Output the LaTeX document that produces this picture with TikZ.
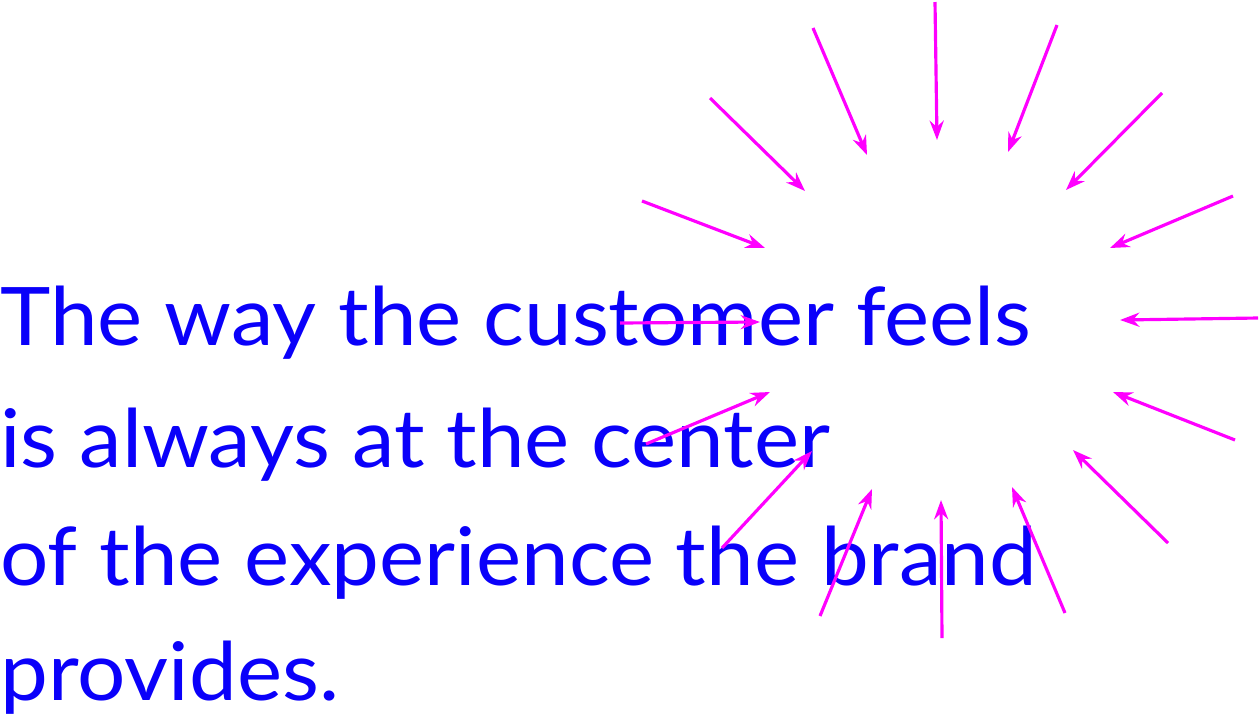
\documentclass[tikz,border=0pt]{standalone}
\usepackage{fontspec}
\setmainfont{Lato}
\usetikzlibrary{arrows.meta}
\definecolor{txtblue}{RGB}{10,0,250}
\definecolor{ray}{RGB}{255,0,255}
\begin{document}
\begin{tikzpicture}[x=0.02cm,y=-0.02cm,
  rayarrow/.style={draw=ray,line width=1.8pt,-{Stealth[length=11pt,width=8pt]}},
  line/.style={anchor=base west,inner sep=0pt,text=txtblue,xscale=1.056,font=\fontsize{46}{55}\selectfont}]

\useasboundingbox (0,0) rectangle (1260,718);

\node [line] (l1) at (0,345) {The way the customer feels};
\node [line] (l2) at (0,467) {is always at the center};
\node [line] (l3) at (0,585) {of the experience the brand};
\node [line] (l4) at (0,700) {provides.};

\foreach \n/\xa/\ya/\xb/\yb in {
  1/935/2/937/140, 2/1057/25/1008/152, 3/1162/93/1066/190,
  4/1233/196/1110/248, 5/1258/318/1120/320, 6/1235/440/1113/392,
  7/1168/543/1073/450, 8/1065/613/1012/487, 9/942/638/941/500,
  10/820/616/872/489, 11/722/548/812/451, 12/646/444/770/392,
  13/620/323/760/322, 14/642/201/765/248, 15/710/98/805/191,
  16/813/28/867/155} {
\coordinate (t\n) at (\xa,\ya);
\coordinate (h\n) at (\xb,\yb);
\draw [rayarrow] (t\n) -- (h\n);
}

\end{tikzpicture}
\end{document}
